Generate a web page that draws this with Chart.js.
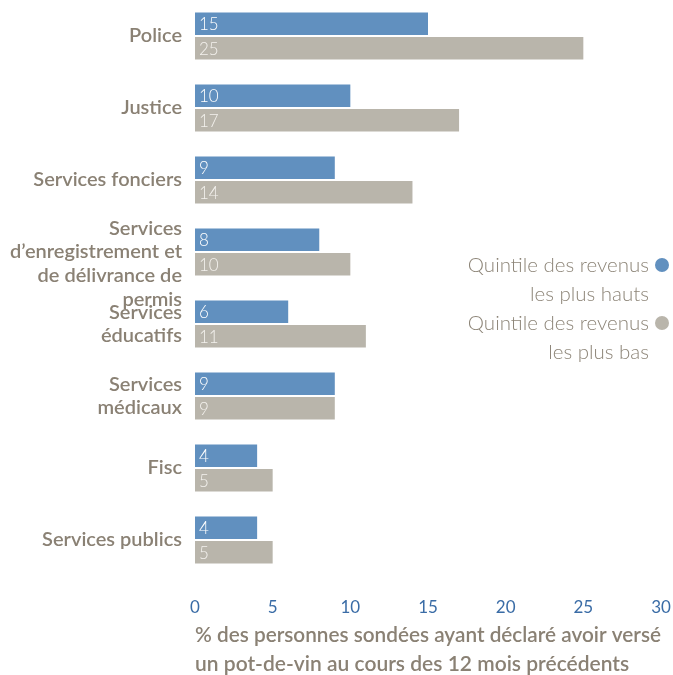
<!DOCTYPE html>
<html>
<head>
<meta charset="utf-8">
<script src="https://cdn.jsdelivr.net/npm/chart.js@4"></script>
<style>
  html, body { margin: 0; padding: 0; background: #fff; }
  #wrap { width: 673px; height: 675px; position: relative; }
</style>
</head>
<body>
<div id="wrap"><canvas id="myChart"></canvas></div>
<script>
// categories (multi-line labels as in the original)
const categories = [
    ['Police'],
    ['Justice'],
    ['Services fonciers'],
    ['Services', 'd’enregistrement et', 'de délivrance de', 'permis'],
    ['Services', 'éducatifs'],
    ['Services', 'médicaux'],
    ['Fisc'],
    ['Services publics']
];
const quintileHaut = [15, 10, 9, 8, 6, 9, 4, 4];
const quintileBas = [25, 17, 14, 10, 11, 9, 5, 5];
const legendHaut = ['Quintile des revenus', 'les plus hauts'];
const legendBas = ['Quintile des revenus', 'les plus bas'];
const axisTitle = ['% des personnes sondées ayant déclaré avoir versé', 'un pot-de-vin au cours des 12 mois précédents'];
const xMin = 0, xMax = 30, xStep = 5;

const blue = '#6190bf';
const grey = '#b9b5ab';
const labelColor = '#8a8174';

// white numbers inside the bars
const barValues = {
    id: 'barValues',
    afterDatasetsDraw(chart) {
        const ctx = chart.ctx;
        ctx.save();
        ctx.font = '300 17px Lato';
        ctx.textAlign = 'left';
        ctx.textBaseline = 'middle';
        chart.data.datasets.forEach((ds, i) => {
            ctx.fillStyle = i === 0 ? '#ffffff' : '#f4f2ee';
            chart.getDatasetMeta(i).data.forEach((bar, j) => {
                ctx.fillText(String(ds.data[j]), bar.base + 4, bar.y + 1);
            });
        });
        ctx.restore();
    }
};

// legend drawn on the right, text before the dot
const sideLegend = {
    id: 'sideLegend',
    afterDraw(chart) {
        const ctx = chart.ctx;
        const items = [
            { lines: legendHaut, color: blue },
            { lines: legendBas, color: grey }
        ];
        ctx.save();
        ctx.font = '300 20.5px Lato';
        ctx.textAlign = 'right';
        ctx.textBaseline = 'middle';
        let y = 265;
        items.forEach(item => {
            ctx.fillStyle = item.color;
            ctx.beginPath();
            ctx.arc(662, y, 7, 0, Math.PI * 2);
            ctx.fill();
            ctx.fillStyle = '#8d8578';
            item.lines.forEach(line => {
                ctx.fillText(line, 649, y);
                y += 29;
            });
        });
        ctx.restore();
    }
};

const ctx = document.getElementById('myChart').getContext('2d');
const chart = new Chart(ctx, {
    type: 'bar',
    data: {
        labels: categories,
        datasets: [{
            label: legendHaut.join(' '),
            data: quintileHaut,
            backgroundColor: blue,
            categoryPercentage: 0.68,
            barPercentage: 0.92
        }, {
            label: legendBas.join(' '),
            data: quintileBas,
            backgroundColor: grey,
            categoryPercentage: 0.68,
            barPercentage: 0.92
        }]
    },
    options: {
        indexAxis: 'y',
        responsive: true,
        maintainAspectRatio: false,
        animation: false,
        layout: { padding: { top: 0, right: 12, left: 0, bottom: 0 } },
        plugins: {
            legend: { display: false },
            tooltip: { enabled: false }
        },
        scales: {
            x: {
                min: xMin,
                max: xMax,
                grid: { display: false },
                border: { display: false },
                ticks: {
                    stepSize: xStep,
                    color: '#3a6ca6',
                    font: { family: 'Lato', size: 17 },
                    padding: 13,
                    maxRotation: 0
                },
                title: {
                    display: true,
                    text: axisTitle,
                    align: 'start',
                    color: labelColor,
                    font: { family: 'Lato', size: 21, weight: 600, lineHeight: 1.35 },
                    padding: { top: 4, bottom: -3 }
                },
                afterFit(scale) {
                    scale.height = 99;
                    scale.paddingLeft = 0;
                    scale.paddingRight = 0;
                }
            },
            y: {
                grid: { display: false },
                border: { display: false },
                ticks: {
                    autoSkip: false,
                    color: labelColor,
                    font: { family: 'Lato', size: 20, weight: 600, lineHeight: 1.18 },
                    padding: 5,
                    // the long 4-line label sits a little low in the original
                    callback(value) {
                        const lines = this.getLabelForValue(value);
                        return Array.isArray(lines) && lines.length > 2 ? [''].concat(lines) : lines;
                    }
                },
                afterFit(scale) {
                    scale.width = 195;
                    scale.paddingTop = 0;
                    scale.paddingBottom = 0;
                }
            }
        }
    },
    plugins: [barValues, sideLegend]
});
</script>
</body>
</html>
